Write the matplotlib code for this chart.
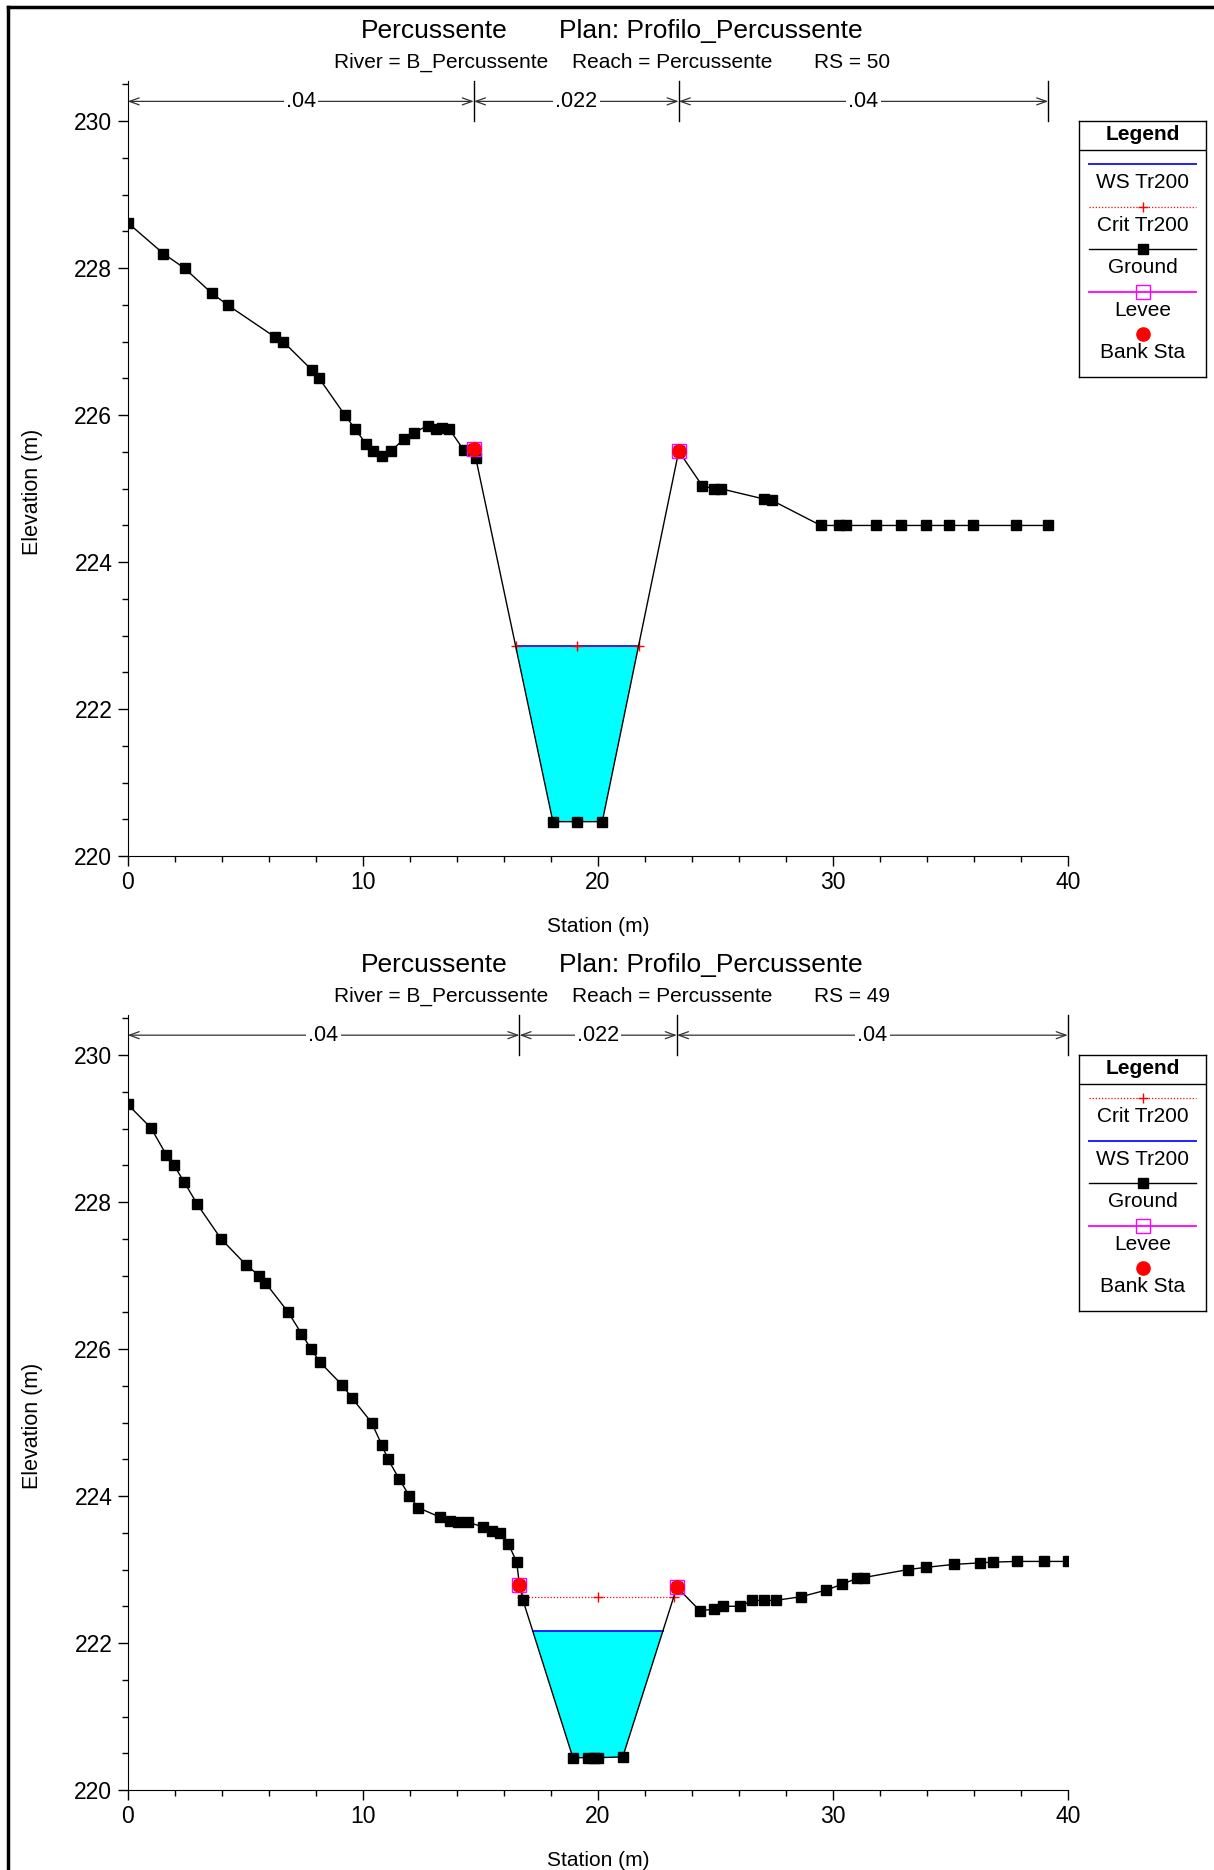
import numpy as np
import matplotlib
matplotlib.use("Agg")
import matplotlib.pyplot as plt
from matplotlib.ticker import MultipleLocator
from matplotlib.lines import Line2D

plt.rcParams["font.family"] = ["Liberation Sans", "DejaVu Sans"]

# --- cross section RS 50 ---
rs50_station = [0, 1.52, 2.42, 3.58, 4.25, 6.28, 6.62, 7.85, 8.15, 9.24,
                9.68, 10.14, 10.45, 10.83, 11.2, 11.75, 12.18, 12.75, 13.1, 13.37,
                13.68, 14.28, 14.72, 14.8, 18.08, 19.1, 20.18, 23.43, 24.43, 24.92,
                25.22, 27.05, 27.4, 29.47, 30.23, 30.55, 31.82, 32.88, 33.95, 34.94,
                35.92, 37.75, 39.14]
rs50_elev = [228.62, 228.2, 228.0, 227.66, 227.5, 227.06, 227.0, 226.61, 226.5, 226.0,
             225.81, 225.61, 225.51, 225.45, 225.51, 225.68, 225.76, 225.86, 225.81, 225.82,
             225.81, 225.53, 225.54, 225.42, 220.47, 220.47, 220.47, 225.51, 225.04, 225.0,
             225.0, 224.86, 224.84, 224.5, 224.5, 224.5, 224.5, 224.5, 224.5, 224.5,
             224.5, 224.5, 224.5]
rs50_banks = [14.72, 23.43]
rs50_ws = 222.86
rs50_crit = 222.86
rs50_n_breaks = [0, 14.72, 23.43, 39.14]

# --- cross section RS 49 ---
rs49_station = [0, 0.99, 1.65, 1.97, 2.41, 2.96, 3.97, 5.05, 5.59, 5.86,
                6.83, 7.39, 7.8, 8.18, 9.12, 9.55, 10.37, 10.8, 11.07, 11.55,
                11.98, 12.36, 13.3, 13.71, 14.06, 14.49, 15.12, 15.51, 15.85, 16.19,
                16.54, 16.66, 16.81, 18.93, 19.57, 19.83, 19.99, 21.05, 23.35, 24.33,
                24.93, 25.31, 26.04, 26.56, 27.04, 27.55, 28.64, 29.7, 30.38, 31.0,
                31.29, 33.19, 33.96, 35.14, 36.23, 36.77, 37.8, 38.96, 39.97]
rs49_elev = [229.33, 229.01, 228.64, 228.5, 228.27, 227.97, 227.5, 227.14, 227.0, 226.9,
             226.5, 226.21, 226.0, 225.82, 225.51, 225.33, 225.0, 224.7, 224.5, 224.23,
             224.0, 223.84, 223.71, 223.66, 223.65, 223.64, 223.58, 223.53, 223.49, 223.35,
             223.1, 222.79, 222.58, 220.44, 220.44, 220.44, 220.44, 220.45, 222.76, 222.44,
             222.46, 222.5, 222.5, 222.58, 222.58, 222.58, 222.63, 222.72, 222.8, 222.88,
             222.89, 223.0, 223.03, 223.07, 223.09, 223.1, 223.11, 223.11, 223.11]
rs49_banks = [16.66, 23.35]
rs49_ws = 222.17
rs49_crit = 222.63
rs49_n_breaks = [0, 16.66, 23.35, 39.97]

n_labels = [".04", ".022", ".04"]

STYLE = {
    "WS Tr200": dict(color="#2020ff", lw=1.4),
    "Crit Tr200": dict(color="red", lw=0.9, ls=(0, (1, 1.5)), marker="+", ms=7, mew=1),
    "Ground": dict(color="black", lw=1, marker="s", ms=7.8),
    "Levee": dict(color="#ff00ff", lw=1.3, marker="s", ms=10.5, mfc="none", mec="#ff00ff", mew=1),
    "Bank Sta": dict(color="red", ls="none", marker="o", ms=9.5),
}

W, H = 1214, 1870
fig = plt.figure(figsize=(W / 100, H / 100), dpi=100)

# frame round the sheet
fig.add_artist(Line2D([8 / W, 8 / W], [0, 1 - 7 / H], color="black", lw=2.5, transform=fig.transFigure))
fig.add_artist(Line2D([8 / W, 1], [1 - 7 / H, 1 - 7 / H], color="black", lw=2.5, transform=fig.transFigure))


def water_edges(x, z, level):
    x = np.asarray(x)
    z = np.asarray(z)
    i = j = int(np.argmin(z))
    while z[i - 1] < level:
        i -= 1
    while z[j + 1] < level:
        j += 1
    left = np.interp(level, [z[i], z[i - 1]], [x[i], x[i - 1]])
    right = np.interp(level, [z[j], z[j + 1]], [x[j], x[j + 1]])
    return left, right, i, j


def draw_legend(top_px, order):
    x0, w, h = 1079, 127, 256
    lax = fig.add_axes([x0 / W, 1 - (top_px + h) / H, w / W, h / H])
    lax.set_xlim(0, w)
    lax.set_ylim(h, 0)
    lax.set_xticks([])
    lax.set_yticks([])
    for s in lax.spines.values():
        s.set_linewidth(1)
    lax.text(w / 2, 14, "Legend", ha="center", va="center", fontsize=15, fontweight="bold")
    lax.axhline(29, color="black", lw=1)
    for k, name in enumerate(order):
        yl = 43 + 42.6 * k
        st = STYLE[name]
        if name == "Bank Sta":
            lax.plot([w / 2], [yl], **st)
        else:
            kw = dict(st)
            mk = kw.pop("marker", None)
            ms = kw.pop("ms", None)
            mfc = kw.pop("mfc", None)
            mec = kw.pop("mec", None)
            mew = kw.pop("mew", None)
            lax.plot([10, 117], [yl, yl], **kw)
            if mk:
                lax.plot([w / 2], [yl], ls="none", marker=mk, ms=ms, color=kw["color"],
                         mfc=mfc if mfc else kw["color"], mec=mec if mec else kw["color"],
                         mew=mew if mew else 1)
        lax.text(w / 2, yl + 18.5, name, ha="center", va="center", fontsize=15)


def draw_section(axis_px, head_px, rs, station, elev, banks, ws, crit, n_breaks, order):
    ax = fig.add_axes([127.6 / W, 1 - axis_px / H, 940.9 / W, 775.4 / H])
    ax.set_xlim(0, 40)
    ax.set_ylim(220, 230.55)
    for side in ("top", "right"):
        ax.spines[side].set_visible(False)
    ax.xaxis.set_major_locator(MultipleLocator(10))
    ax.xaxis.set_minor_locator(MultipleLocator(2))
    ax.yaxis.set_major_locator(MultipleLocator(2))
    ax.yaxis.set_minor_locator(MultipleLocator(0.5))
    ax.set_yticks([220, 222, 224, 226, 228, 230])
    ax.tick_params(which="major", length=7, width=1, labelsize=16.5, pad=4)
    ax.tick_params(which="minor", length=4, width=1)
    ax.set_xlabel("Station (m)", fontsize=15, labelpad=16)
    ax.set_ylabel("Elevation (m)", fontsize=15.5)
    ax.yaxis.set_label_coords(-0.09, 0.47)

    # water in the channel
    left, right, i, j = water_edges(station, elev, ws)
    xs = [left] + list(station[i:j + 1]) + [right]
    zs = [ws] + list(elev[i:j + 1]) + [ws]
    ax.fill(xs, zs, color="#00ffff", lw=0, zorder=1)
    ax.plot([left, right], [ws, ws], color=STYLE["WS Tr200"]["color"], lw=1.4, zorder=2)

    cl, cr, _, _ = water_edges(station, elev, crit)
    ax.plot([cl, cr], [crit, crit], color="red", lw=0.9, ls=(0, (1, 1.5)), zorder=2.5)
    ax.plot([cl, (cl + cr) / 2, cr], [crit] * 3, ls="none", marker="+", ms=7, mew=1,
            color="red", zorder=2.6)

    ax.plot(station, elev, **STYLE["Ground"], zorder=3)

    bank_z = np.interp(banks, station, elev)
    ax.plot(banks, bank_z, ls="none", marker="s", ms=10.5, mfc="none", mec="#ff00ff", mew=1, zorder=4)
    ax.plot(banks, bank_z, **STYLE["Bank Sta"], zorder=5)

    # Manning's n bar along the top
    y_bar = 230.27
    for xb in n_breaks[1:]:
        ax.plot([xb, xb], [230.0, 230.55], color="black", lw=1, clip_on=False)
    for a, b, lab in zip(n_breaks[:-1], n_breaks[1:], n_labels):
        ax.annotate("", xy=(b, y_bar), xytext=(a, y_bar),
                    arrowprops=dict(arrowstyle="<->,head_length=0.5,head_width=0.18",
                                    color="#333333", lw=0.9, shrinkA=0, shrinkB=0,
                                    mutation_scale=14))
        ax.text((a + b) / 2, y_bar, lab, ha="center", va="center", fontsize=15.5,
                bbox=dict(facecolor="white", edgecolor="none", pad=1.5))

    ty = 1 - head_px / H
    sy = 1 - (head_px + 31) / H
    fig.text(361 / W, ty, "Percussente", fontsize=19, va="center")
    fig.text(559 / W, ty, "Plan: Profilo_Percussente", fontsize=19, va="center")
    fig.text(334 / W, sy, "River = B_Percussente", fontsize=15, va="center")
    fig.text(572 / W, sy, "Reach = Percussente", fontsize=15, va="center")
    fig.text(814 / W, sy, "RS = %d" % rs, fontsize=15, va="center")

    draw_legend(head_px + 90, order)
    return ax


draw_section(856.2, 31, 50, rs50_station, rs50_elev, rs50_banks, rs50_ws, rs50_crit,
             rs50_n_breaks, ["WS Tr200", "Crit Tr200", "Ground", "Levee", "Bank Sta"])
draw_section(1790.0, 965, 49, rs49_station, rs49_elev, rs49_banks, rs49_ws, rs49_crit,
             rs49_n_breaks, ["Crit Tr200", "WS Tr200", "Ground", "Levee", "Bank Sta"])

fig.savefig("out.png", dpi=100)
